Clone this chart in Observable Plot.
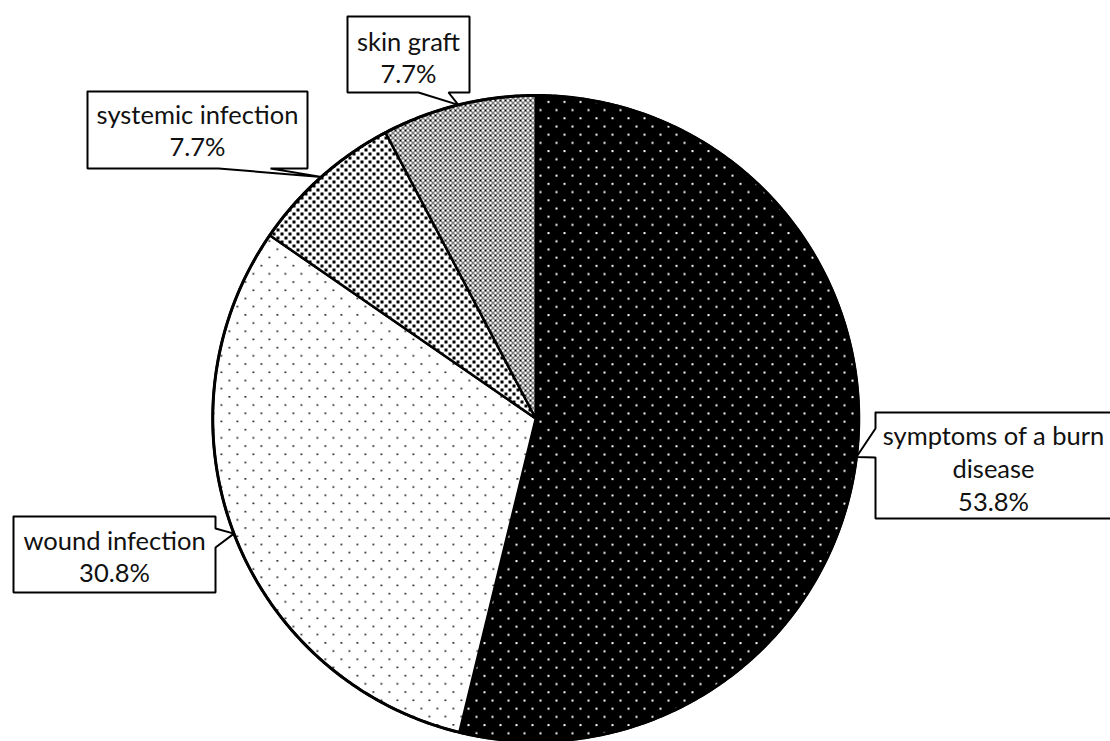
<!DOCTYPE html>
<html>
<head>
<meta charset="utf-8">
<script src="https://cdn.jsdelivr.net/npm/d3@7"></script>
<script src="https://cdn.jsdelivr.net/npm/@observablehq/plot@0.6"></script>
<style>
  html, body { margin: 0; padding: 0; background: #fff; overflow: hidden; }
  #chart svg { display: block; }
</style>
</head>
<body>
<div id="chart"></div>
<script>
// ---- data ----
const categories = ["symptoms of a burn disease", "wound infection", "systemic infection", "skin graft"];
const shares = [53.8, 30.8, 7.7, 7.7];
const labelNames = ["symptoms of a burn\ndisease", "wound infection", "systemic infection", "skin graft"];

// ---- layout (pixels) ----
const W = 1110, H = 741;
const CX = 535.25, CY = 418, R = 323;
const boxes = [
  {x0: 875, y0: 412, x1: 1120, y1: 518, side: "left",   b0: 428, b1: 457, ty: 467, tx: 993},
  {x0: 13,  y0: 516, x1: 215,  y1: 592, side: "right",  b0: 528, b1: 547, ty: 555, tx: 114},
  {x0: 87,  y0: 91,  x1: 307,  y1: 168, side: "bottom", b0: 218, b1: 270, ty: 129, tx: 197},
  {x0: 347, y0: 16,  x1: 469,  y1: 92,  side: "bottom", b0: 418, b1: 448, ty: 56,  tx: 408}
];
const patternIds = ["pSymptoms", "pWound", "pSystemic", "pGraft"];
const FONT = "Lato, 'Open Sans', sans-serif";

const toX = px => (px - CX) / R;
const toY = py => (CY - py) / R;

// pie angles
const arcs = d3.pie().sort(null).startAngle(0).endAngle(2 * Math.PI)(shares);

// slice polygons
const slicePts = [];
arcs.forEach((a, i) => {
  slicePts.push({k: categories[i], x: 0, y: 0});
  const n = Math.max(4, Math.ceil((a.endAngle - a.startAngle) / (Math.PI / 360)));
  for (let j = 0; j <= n; j++) {
    const t = a.startAngle + (a.endAngle - a.startAngle) * j / n;
    slicePts.push({k: categories[i], x: Math.sin(t), y: Math.cos(t)});
  }
  slicePts.push({k: categories[i], x: 0, y: 0});
});

// outer circle
const circlePts = d3.range(0, 721).map(j => {
  const t = j / 720 * 2 * Math.PI;
  return {x: Math.sin(t), y: Math.cos(t)};
});

// callout polygons
const calloutPts = [];
arcs.forEach((a, i) => {
  const b = boxes[i];
  const mid = (a.startAngle + a.endAngle) / 2;
  const tip = [CX + R * Math.sin(mid), CY - R * Math.cos(mid)];
  const p = [];
  p.push([b.x0, b.y0], [b.x1, b.y0]);
  if (b.side === "right") p.push([b.x1, b.b0], tip, [b.x1, b.b1]);
  p.push([b.x1, b.y1]);
  if (b.side === "bottom") p.push([b.b1, b.y1], tip, [b.b0, b.y1]);
  p.push([b.x0, b.y1]);
  if (b.side === "left") p.push([b.x0, b.b1], tip, [b.x0, b.b0]);
  p.push([b.x0, b.y0]);
  p.forEach(([px, py]) => calloutPts.push({k: categories[i], x: toX(px), y: toY(py)}));
});

const labels = categories.map((c, i) => ({
  k: c,
  text: `${labelNames[i]}\n${shares[i]}%`,
  x: toX(boxes[i].tx),
  y: toY(boxes[i].ty)
}));

const chart = Plot.plot({
  width: W,
  height: H,
  margin: 0,
  x: {domain: [toX(0), toX(W)], axis: null},
  y: {domain: [toY(H), toY(0)], axis: null},
  color: {domain: categories, range: patternIds.map(id => `url(#${id})`)},
  marks: [
    Plot.line(slicePts, {x: "x", y: "y", z: "k", fill: "k", stroke: "#000", strokeWidth: 2.5, strokeLinejoin: "round", curve: "linear"}),
    Plot.line(circlePts, {x: "x", y: "y", stroke: "#000", strokeWidth: 3, curve: "linear"}),
    Plot.line(calloutPts, {x: "x", y: "y", z: "k", fill: "#fff", stroke: "#000", strokeWidth: 2, strokeLinejoin: "miter", curve: "linear"}),
    Plot.text(labels, {x: "x", y: "y", text: "text", fontSize: 25.5, lineHeight: 1.29, fill: "#111", fontFamily: FONT, textAnchor: "middle"})
  ]
});

// patterns
const defs = document.createElementNS("http://www.w3.org/2000/svg", "defs");
defs.innerHTML = `
  <pattern id="pSymptoms" patternUnits="userSpaceOnUse" width="16" height="16.4">
    <rect width="16" height="16.4" fill="#000"/>
    <rect x="3" y="2" width="2" height="2" fill="#fff"/>
    <rect x="11" y="10.2" width="2" height="2" fill="#fff"/>
  </pattern>
  <pattern id="pWound" patternUnits="userSpaceOnUse" width="16" height="16.4">
    <rect width="16" height="16.4" fill="#fff"/>
    <rect x="4" y="2" width="1.7" height="1.5" fill="#000"/>
    <rect x="12" y="10.2" width="1.7" height="1.5" fill="#000"/>
  </pattern>
  <pattern id="pSystemic" patternUnits="userSpaceOnUse" width="8" height="8">
    <rect width="8" height="8" fill="#fff"/>
    <rect x="0" y="0" width="3" height="3" fill="#000"/>
    <rect x="4" y="4" width="3" height="3" fill="#000"/>
  </pattern>
  <pattern id="pGraft" patternUnits="userSpaceOnUse" width="5" height="5">
    <rect width="5" height="5" fill="#fff"/>
    <path d="M0,0L5,5M5,0L0,5M-1,4L1,6M4,-1L6,1M-1,1L1,-1M4,6L6,4" stroke="#000" stroke-width="1"/>
  </pattern>`;
chart.insertBefore(defs, chart.firstChild);
document.getElementById("chart").appendChild(chart);
</script>
</body>
</html>
